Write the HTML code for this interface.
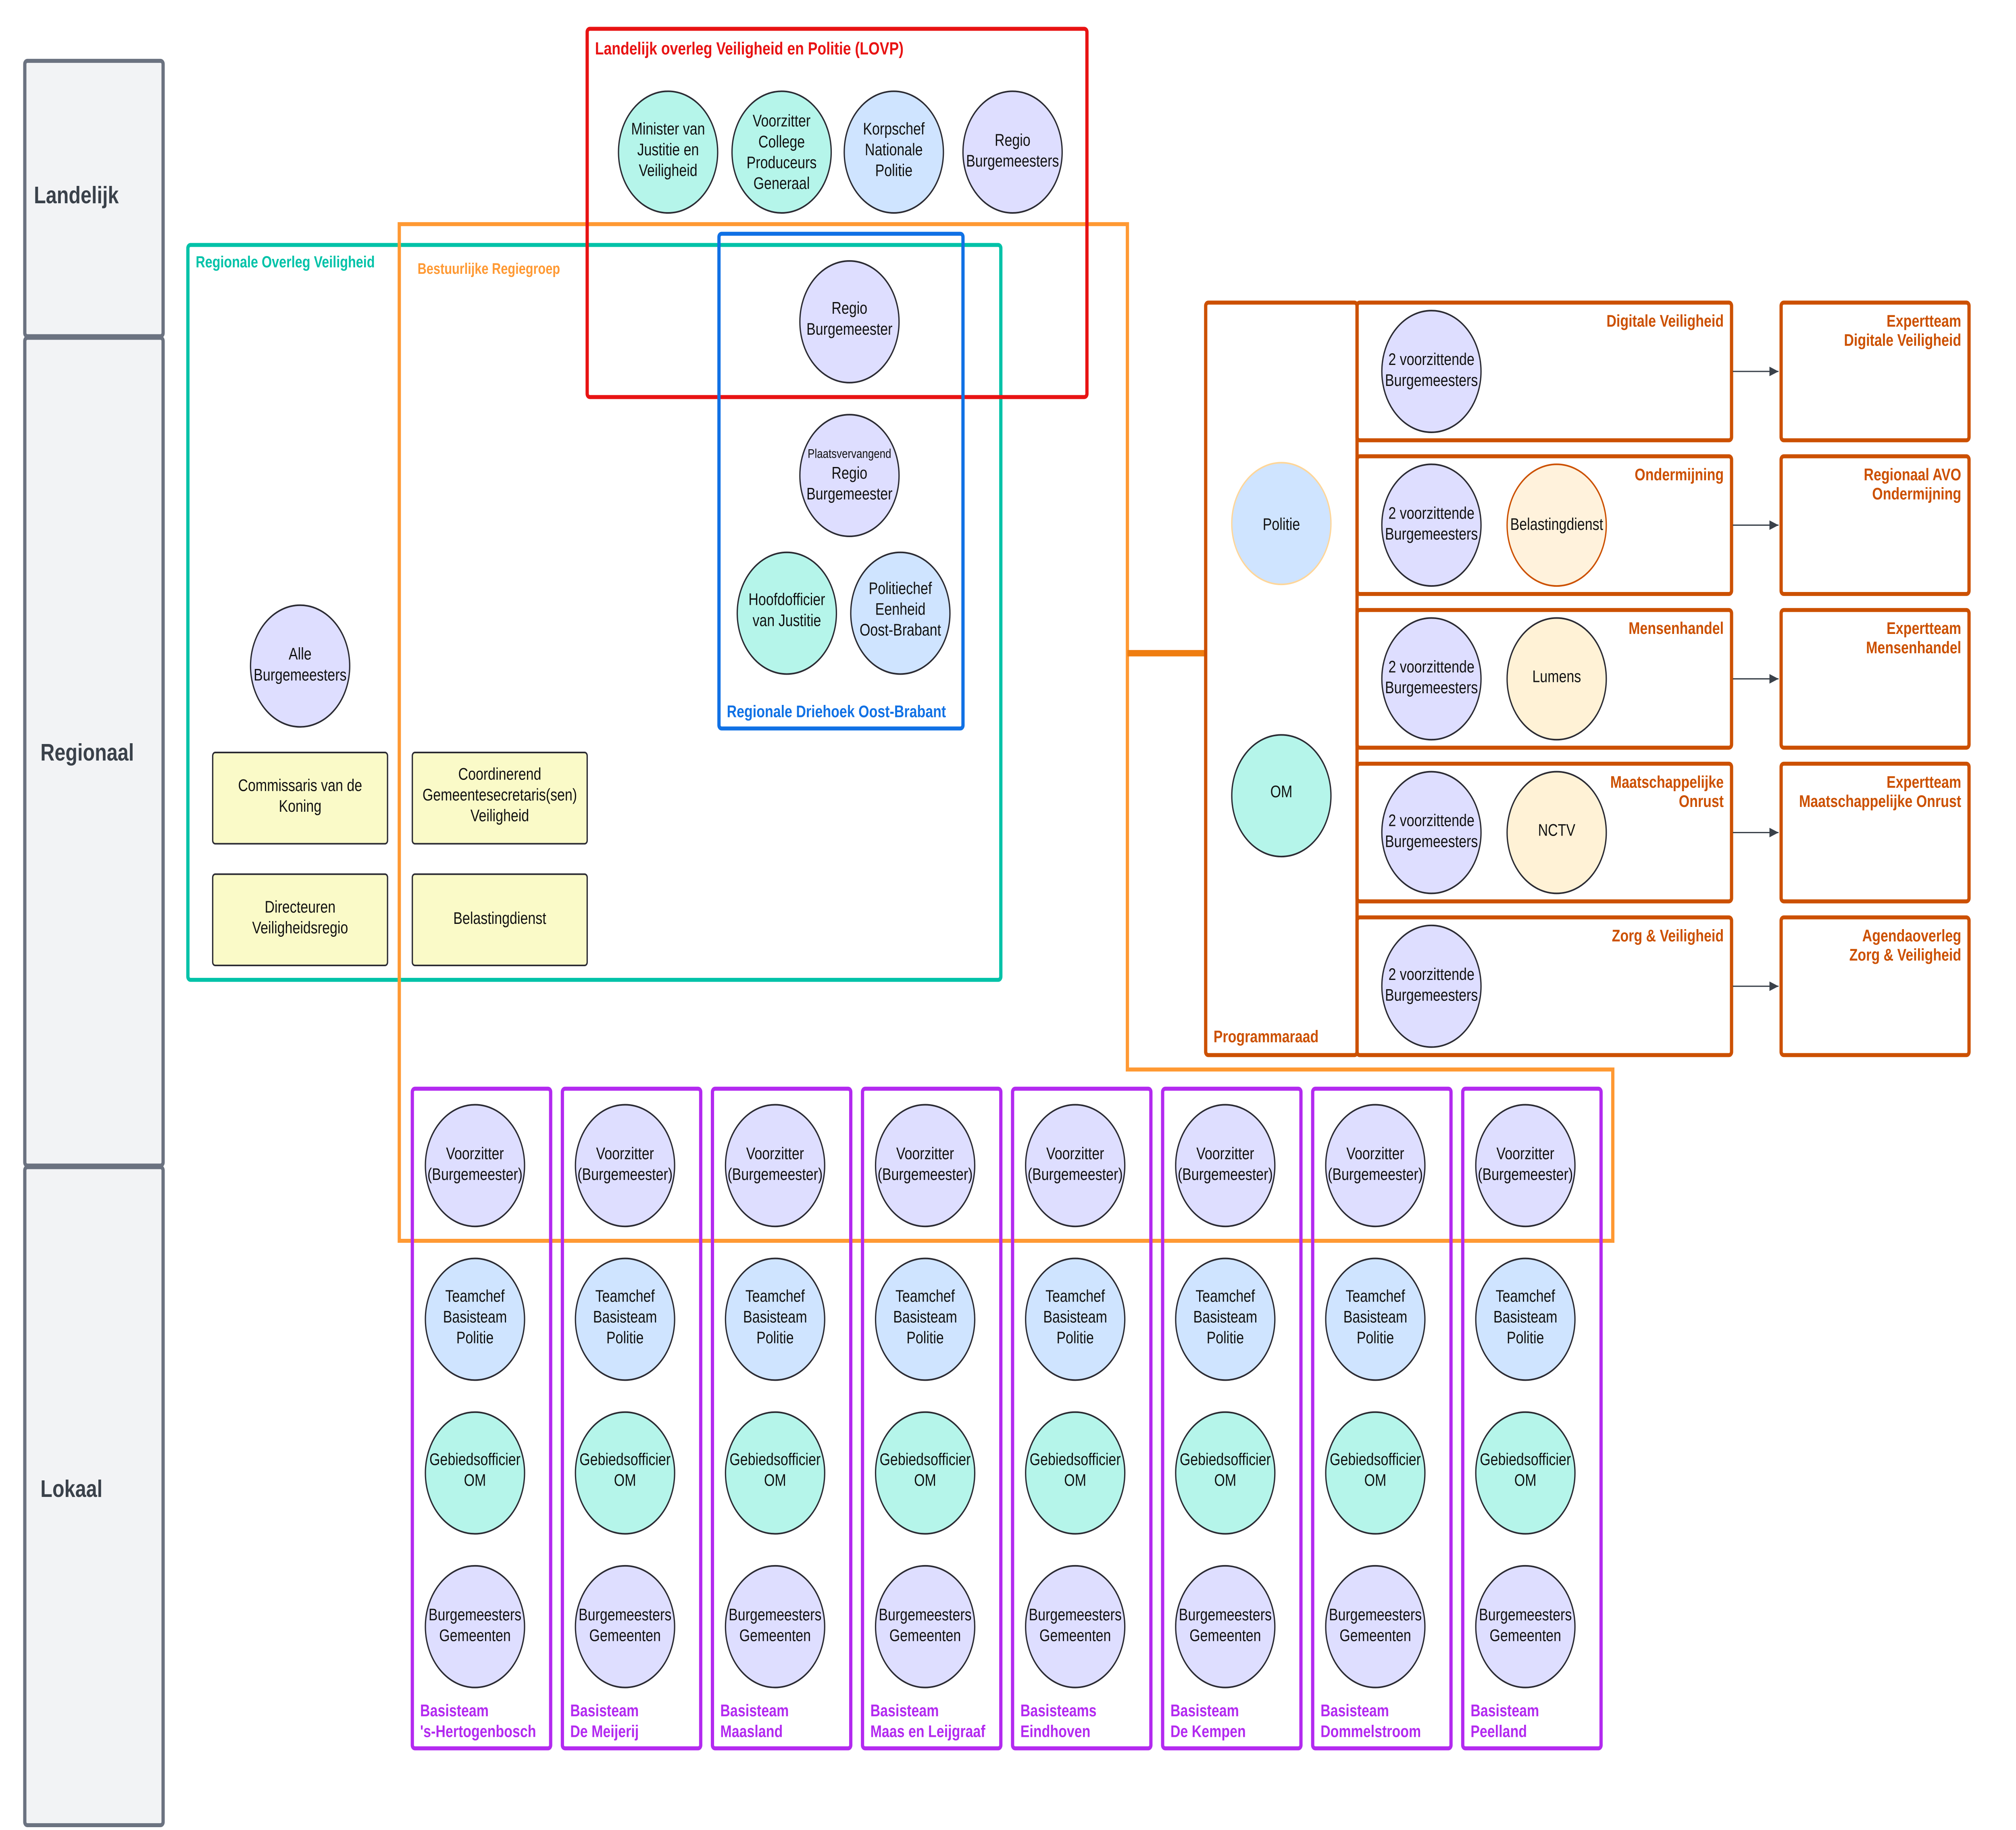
<!DOCTYPE html>
<html><head><meta charset="utf-8"><style>html,body{margin:0;padding:0;background:#fff;width:100%;height:100%;overflow:hidden}svg{display:block;width:100vw;height:100vh}</style></head>
<body>
<svg xmlns="http://www.w3.org/2000/svg" viewBox="0 0 1545 1143" preserveAspectRatio="none" font-family="Liberation Sans, sans-serif">
<defs>
<marker id="ar" markerWidth="8" markerHeight="8" refX="7" refY="3" orient="auto" markerUnits="userSpaceOnUse"><path d="M0,0 L7,3 L0,6 z" fill="#3a414a"/></marker>
</defs>
<g fill="#f2f3f5" stroke="#6b7280" stroke-width="2.5">
<rect x="19" y="38" width="106" height="172" rx="2"/>
<rect x="19" y="211" width="106" height="517" rx="2"/>
<rect x="19" y="729" width="106" height="411" rx="2"/>
</g>
<g fill="#3a414a" font-weight="bold" font-size="15">
<text x="26" y="127">Landelijk</text>
<text x="31" y="475">Regionaal</text>
<text x="31" y="935">Lokaal</text>
</g>
<rect x="144" y="153" width="623" height="459" rx="2" fill="none" stroke="#00c2a8" stroke-width="2.5"/>
<path d="M306,140 H864 V668 H1236 V775 H306 Z" fill="none" stroke="#ff9933" stroke-width="2.5"/>
<rect x="450" y="18" width="383" height="230" rx="2" fill="none" stroke="#e81313" stroke-width="2.5"/>
<rect x="551" y="146" width="187" height="309" rx="2" fill="none" stroke="#1071e5" stroke-width="2.5"/>
<g font-weight="bold">
<text x="456" y="34" font-size="11" fill="#e81313">Landelijk overleg Veiligheid en Politie (LOVP)</text>
<text x="150" y="167" font-size="10" fill="#00c2a8">Regionale Overleg Veiligheid</text>
<text x="320" y="171" font-size="9.5" fill="#ff9933">Bestuurlijke Regiegroep</text>
<text x="557" y="448" font-size="10.5" fill="#1071e5">Regionale Driehoek Oost-Brabant</text>
</g>
<g stroke="#2b2b33" stroke-width="1">
<circle cx="512" cy="95" r="38" fill="#b5f5ea"/>
<circle cx="599" cy="95" r="38" fill="#b5f5ea"/>
<circle cx="685" cy="95" r="38" fill="#cfe4ff"/>
<circle cx="776" cy="95" r="38" fill="#dedeff"/>
<circle cx="651" cy="201" r="38" fill="#dedeff"/>
<circle cx="651" cy="297" r="38" fill="#dedeff"/>
<circle cx="603" cy="383" r="38" fill="#b5f5ea"/>
<circle cx="690" cy="383" r="38" fill="#cfe4ff"/>
<circle cx="230" cy="416" r="38" fill="#dedeff"/>
</g>
<g font-size="10.5" fill="#111" text-anchor="middle">
<text x="512" y="84">Minister van</text><text x="512" y="97">Justitie en</text><text x="512" y="110">Veiligheid</text>
<text x="599" y="79">Voorzitter</text><text x="599" y="92">College</text><text x="599" y="105">Produceurs</text><text x="599" y="118">Generaal</text>
<text x="685" y="84">Korpschef</text><text x="685" y="97">Nationale</text><text x="685" y="110">Politie</text>
<text x="776" y="91">Regio</text><text x="776" y="104">Burgemeesters</text>
<text x="651" y="196">Regio</text><text x="651" y="209">Burgemeester</text>
<text x="651" y="286" font-size="8">Plaatsvervangend</text><text x="651" y="299">Regio</text><text x="651" y="312">Burgemeester</text>
<text x="603" y="378">Hoofdofficier</text><text x="603" y="391">van Justitie</text>
<text x="690" y="371">Politiechef</text><text x="690" y="384">Eenheid</text><text x="690" y="397">Oost-Brabant</text>
<text x="230" y="412">Alle</text><text x="230" y="425">Burgemeesters</text>
</g>
<g fill="#fafac8" stroke="#2b2b33" stroke-width="1">
<rect x="163" y="470" width="134" height="57" rx="2"/>
<rect x="316" y="470" width="134" height="57" rx="2"/>
<rect x="163" y="546" width="134" height="57" rx="2"/>
<rect x="316" y="546" width="134" height="57" rx="2"/>
</g>
<g font-size="10.5" fill="#111" text-anchor="middle">
<text x="230" y="494">Commissaris van de</text><text x="230" y="507">Koning</text>
<text x="383" y="487">Coordinerend</text><text x="383" y="500">Gemeentesecretaris(sen)</text><text x="383" y="513">Veiligheid</text>
<text x="230" y="570">Directeuren</text><text x="230" y="583">Veiligheidsregio</text>
<text x="383" y="577">Belastingdienst</text>
</g>
<line x1="864" y1="408" x2="924" y2="408" stroke="#ef7d10" stroke-width="4"/>
<g fill="none" stroke="#cc5000" stroke-width="2.5">
<rect x="924" y="189" width="116" height="470" rx="2"/>
<rect x="1040" y="189" width="287" height="86" rx="2"/>
<rect x="1040" y="285" width="287" height="86" rx="2"/>
<rect x="1040" y="381" width="287" height="86" rx="2"/>
<rect x="1040" y="477" width="287" height="86" rx="2"/>
<rect x="1040" y="573" width="287" height="86" rx="2"/>
<rect x="1365" y="189" width="144" height="86" rx="2"/>
<rect x="1365" y="285" width="144" height="86" rx="2"/>
<rect x="1365" y="381" width="144" height="86" rx="2"/>
<rect x="1365" y="477" width="144" height="86" rx="2"/>
<rect x="1365" y="573" width="144" height="86" rx="2"/>
</g>
<g stroke="#3a414a" stroke-width="0.8" marker-end="url(#ar)">
<line x1="1328" y1="232" x2="1363" y2="232"/>
<line x1="1328" y1="328" x2="1363" y2="328"/>
<line x1="1328" y1="424" x2="1363" y2="424"/>
<line x1="1328" y1="520" x2="1363" y2="520"/>
<line x1="1328" y1="616" x2="1363" y2="616"/>
</g>
<circle cx="982" cy="327" r="38" fill="#cfe4ff" stroke="#ffd699" stroke-width="1"/>
<circle cx="982" cy="497" r="38" fill="#b5f5ea" stroke="#2b2b33" stroke-width="1"/>
<g stroke="#2b2b33" stroke-width="1" fill="#dedeff">
<circle cx="1097" cy="232" r="38"/><circle cx="1097" cy="328" r="38"/><circle cx="1097" cy="424" r="38"/><circle cx="1097" cy="520" r="38"/><circle cx="1097" cy="616" r="38"/>
</g>
<circle cx="1193" cy="328" r="38" fill="#fff2dc" stroke="#cc5000" stroke-width="1"/>
<circle cx="1193" cy="424" r="38" fill="#fff2d6" stroke="#2b2b33" stroke-width="1"/>
<circle cx="1193" cy="520" r="38" fill="#fff2d6" stroke="#2b2b33" stroke-width="1"/>
<g font-size="10.5" fill="#111" text-anchor="middle">
<text x="982" y="331">Politie</text><text x="982" y="498">OM</text>
<text x="1097" y="228">2 voorzittende</text><text x="1097" y="241">Burgemeesters</text>
<text x="1097" y="324">2 voorzittende</text><text x="1097" y="337">Burgemeesters</text>
<text x="1097" y="420">2 voorzittende</text><text x="1097" y="433">Burgemeesters</text>
<text x="1097" y="516">2 voorzittende</text><text x="1097" y="529">Burgemeesters</text>
<text x="1097" y="612">2 voorzittende</text><text x="1097" y="625">Burgemeesters</text>
<text x="1193" y="331">Belastingdienst</text><text x="1193" y="426">Lumens</text><text x="1193" y="522">NCTV</text>
</g>
<g font-size="10.5" font-weight="bold" fill="#cc5000" text-anchor="end">
<text x="1321" y="204">Digitale Veiligheid</text>
<text x="1321" y="300">Ondermijning</text>
<text x="1321" y="396">Mensenhandel</text>
<text x="1321" y="492">Maatschappelijke</text><text x="1321" y="504">Onrust</text>
<text x="1321" y="588">Zorg &amp; Veiligheid</text>
<text x="1503" y="204">Expertteam</text><text x="1503" y="216">Digitale Veiligheid</text>
<text x="1503" y="300">Regionaal AVO</text><text x="1503" y="312">Ondermijning</text>
<text x="1503" y="396">Expertteam</text><text x="1503" y="408">Mensenhandel</text>
<text x="1503" y="492">Expertteam</text><text x="1503" y="504">Maatschappelijke Onrust</text>
<text x="1503" y="588">Agendaoverleg</text><text x="1503" y="600">Zorg &amp; Veiligheid</text>
</g>
<text x="930" y="651" font-size="10.5" font-weight="bold" fill="#cc5000">Programmaraad</text>
<g id="bt">
<rect x="316" y="680" width="106" height="412" rx="2" fill="none" stroke="#b32af0" stroke-width="2.5"/>
<g stroke="#2b2b33" stroke-width="1">
<circle cx="364" cy="728" r="38" fill="#dedeff"/>
<circle cx="364" cy="824" r="38" fill="#cfe4ff"/>
<circle cx="364" cy="920" r="38" fill="#b5f5ea"/>
<circle cx="364" cy="1016" r="38" fill="#dedeff"/>
</g>
<g font-size="10.5" fill="#111" text-anchor="middle">
<text x="364" y="724">Voorzitter</text><text x="364" y="737">(Burgemeester)</text>
<text x="364" y="813">Teamchef</text><text x="364" y="826">Basisteam</text><text x="364" y="839">Politie</text>
<text x="364" y="915">Gebiedsofficier</text><text x="364" y="928">OM</text>
<text x="364" y="1012">Burgemeesters</text><text x="364" y="1025">Gemeenten</text>
</g>
</g>
<use href="#bt" x="115"/><use href="#bt" x="230"/><use href="#bt" x="345"/><use href="#bt" x="460"/><use href="#bt" x="575"/><use href="#bt" x="690"/><use href="#bt" x="805"/>
<g font-size="10.5" font-weight="bold" fill="#b32af0">
<text x="322" y="1072">Basisteam</text><text x="322" y="1085">'s-Hertogenbosch</text>
<text x="437" y="1072">Basisteam</text><text x="437" y="1085">De Meijerij</text>
<text x="552" y="1072">Basisteam</text><text x="552" y="1085">Maasland</text>
<text x="667" y="1072">Basisteam</text><text x="667" y="1085">Maas en Leijgraaf</text>
<text x="782" y="1072">Basisteams</text><text x="782" y="1085">Eindhoven</text>
<text x="897" y="1072">Basisteam</text><text x="897" y="1085">De Kempen</text>
<text x="1012" y="1072">Basisteam</text><text x="1012" y="1085">Dommelstroom</text>
<text x="1127" y="1072">Basisteam</text><text x="1127" y="1085">Peelland</text>
</g>
</svg>
</body></html>
